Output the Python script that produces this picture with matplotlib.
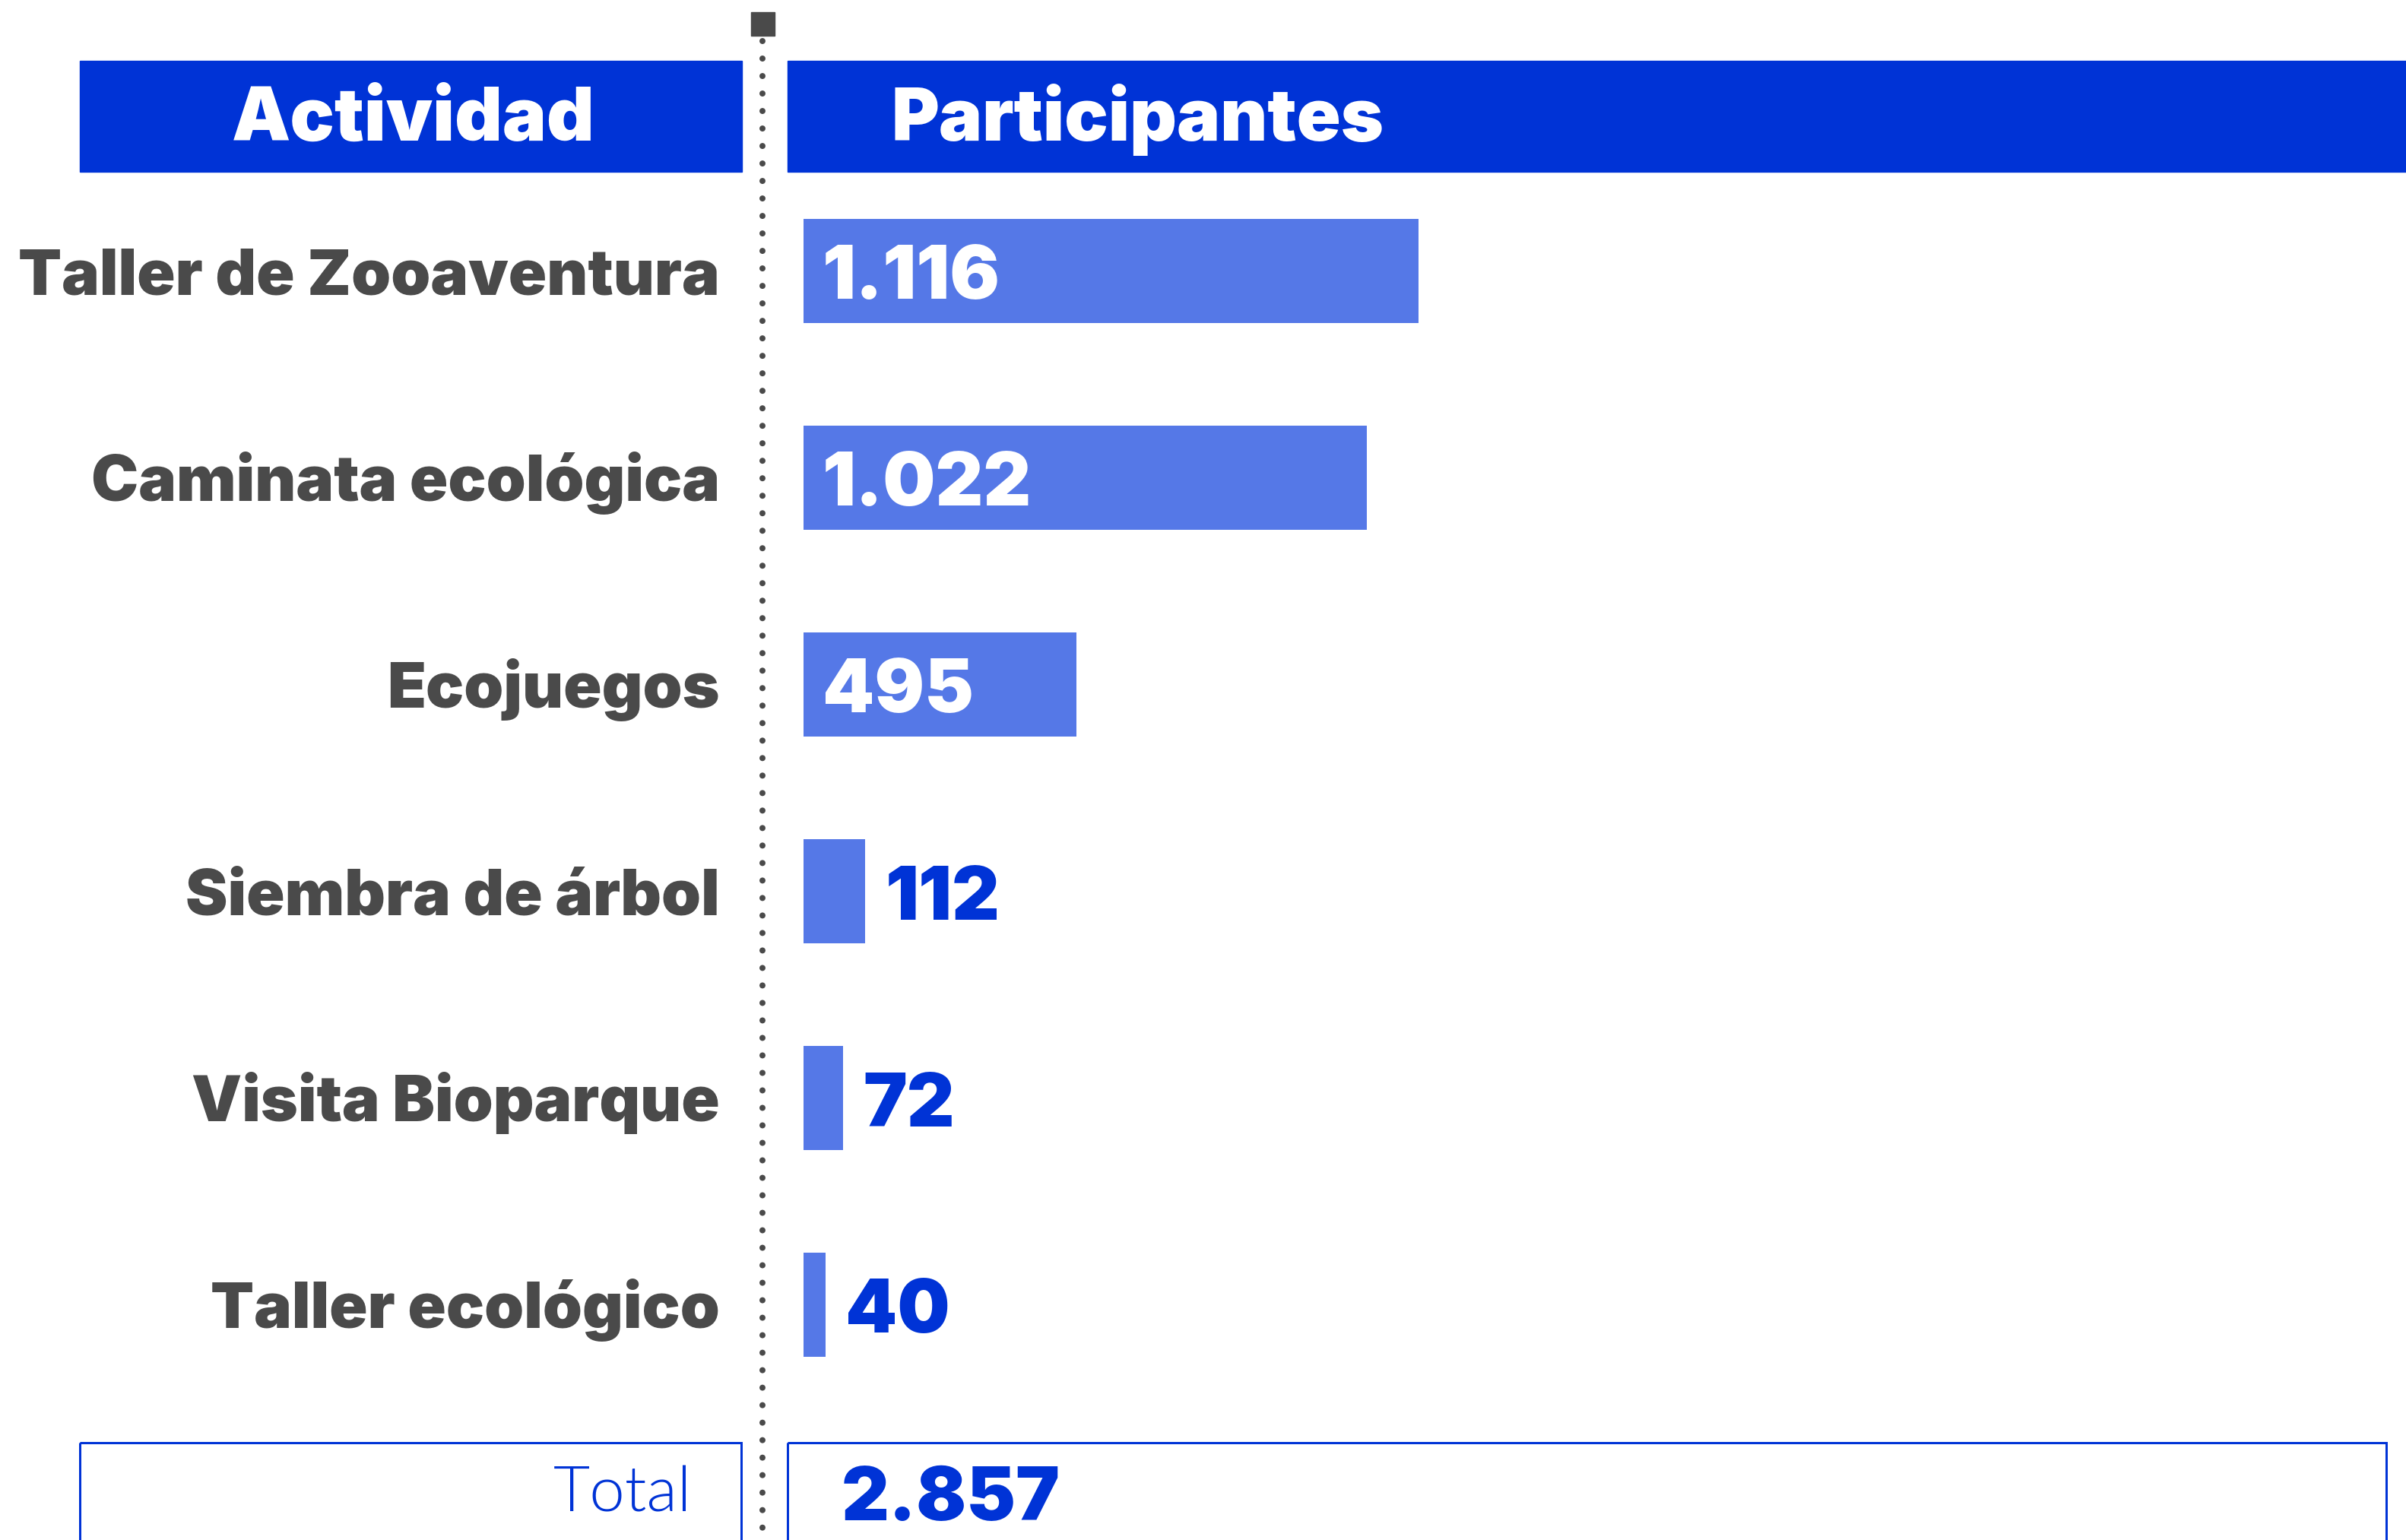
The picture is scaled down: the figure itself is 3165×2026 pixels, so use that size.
import matplotlib
matplotlib.use("Agg")
import matplotlib.pyplot as plt
from matplotlib import font_manager
from matplotlib.patches import Rectangle
from matplotlib.transforms import blended_transform_factory, offset_copy

# ---- data ----
actividades = ["Taller de Zooaventura", "Caminata ecológica", "Ecojuegos",
               "Siembra de árbol", "Visita Bioparque", "Taller ecológico"]
participantes = [1116, 1022, 495, 112, 72, 40]
total = 2857
header_left = "Actividad"
header_right = "Participantes"
total_label = "Total"


def fmt(v):
    return f"{v:,}".replace(",", ".")


def heavy_family(candidates):
    """Return the first family that ships a weight of 800 or more."""
    for fam in candidates:
        ws = [f.weight for f in font_manager.fontManager.ttflist
              if f.name == fam and isinstance(f.weight, int)]
        if ws and max(ws) >= 800:
            return fam, max(ws)
    return "DejaVu Sans", 700


HEAVY, HEAVY_W = heavy_family(["Inter", "Lato", "Open Sans", "Roboto", "Noto Sans"])
FONT = [HEAVY, "DejaVu Sans"]
LIGHT = ["Lato", "DejaVu Sans"]

# ---- style ----
BLUE = "#0033d6"
BAR = "#5578e7"
GRAY = "#4a4a4a"

W, H, DPI = 3165, 2026, 100
fig = plt.figure(figsize=(W / DPI, H / DPI), dpi=DPI)
fig.patch.set_facecolor("white")

# overlay axes in pixel units for the table frame
ov = fig.add_axes([0, 0, 1, 1])
ov.set_xlim(0, W)
ov.set_ylim(H, 0)
ov.axis("off")

# bar axes: x=0 at the left edge of the bars, one 272 px slot per row
x0 = 1057
px_per_unit = 0.725
slot = 272
top = 356.5 - slot / 2
ax = fig.add_axes([x0 / W, 1 - (top + slot * len(actividades)) / H,
                   1 - x0 / W, slot * len(actividades) / H])
ax.set_xlim(0, (W - x0) / px_per_unit)
ax.set_ylim(len(actividades) - 0.5, -0.5)
ax.axis("off")

ypos = list(range(len(actividades)))
ax.barh(ypos, participantes, height=137 / slot, left=0, color=BAR, zorder=2)

# header bars
ov.add_patch(Rectangle((105, 80), 871, 146, color=BLUE, zorder=1))
ov.add_patch(Rectangle((1036, 80), W - 1036 + 10, 146, color=BLUE, zorder=1))
ov.text((105 + 976) / 2 + 3, 185, header_left, ha="center", va="baseline",
        color="white", fontsize=70, fontweight=HEAVY_W, family=FONT)
ov.text(1173, 185, header_right, ha="left", va="baseline",
        color="white", fontsize=69, fontweight=HEAVY_W, family=FONT)

# dotted divider with square cap
ov.add_patch(Rectangle((988, 16), 31, 31, color=GRAY, zorder=3))
ov.plot([1003, 1003], [54, H + 20], color=GRAY, lw=8 * 72 / DPI,
        ls=(0, (0.001, 23 / 8)),
        dash_capstyle="round", zorder=3)

# category labels, right aligned, cap centred on each bar
lab_tr = offset_copy(blended_transform_factory(ov.transData, ax.transData),
                     fig=fig, x=0, y=-30.5, units="dots")
for i, name in enumerate(actividades):
    ov.text(947, i, name, transform=lab_tr, ha="right", va="baseline",
            color=GRAY, fontsize=60, fontweight=HEAVY_W, family=FONT)

# value labels: inside long bars, after short ones
VAL_SIZE = 70
val_in = offset_copy(ax.transData, fig=fig, x=25, y=-37, units="dots")
val_out = offset_copy(ax.transData, fig=fig, x=26, y=-37, units="dots")
for i, v in enumerate(participantes):
    if v > 300:
        ax.text(0, i, fmt(v), transform=val_in, ha="left", va="baseline",
                color="white", fontsize=VAL_SIZE, fontweight=HEAVY_W,
                family=FONT, zorder=4)
    else:
        ax.text(v, i, fmt(v), transform=val_out, ha="left", va="baseline",
                color=BLUE, fontsize=VAL_SIZE, fontweight=HEAVY_W,
                family=FONT, zorder=4)

# total row
lw_box = 3 * 72 / DPI
ov.add_patch(Rectangle((105, 1898), 870, 300, fill=False, ec=BLUE, lw=lw_box))
ov.add_patch(Rectangle((1036, 1898), 3139 - 1036, 300, fill=False, ec=BLUE,
                       lw=lw_box))
ov.text(910, 1988, total_label, ha="right", va="baseline", color=BLUE,
        fontsize=60, fontweight=300, family=LIGHT)
ov.text(1107, 2000, fmt(total), ha="left", va="baseline", color=BLUE,
        fontsize=VAL_SIZE, fontweight=HEAVY_W, family=FONT)

fig.savefig("out.png", dpi=DPI, facecolor="white")
